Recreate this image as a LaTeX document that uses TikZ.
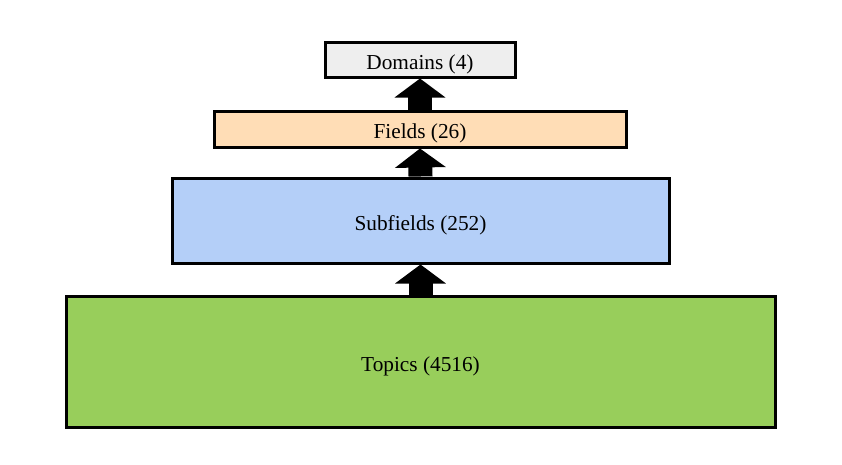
\documentclass[tikz,border=0pt]{standalone}
\usepackage{fontspec}
\setmainfont{Liberation Serif}
\usetikzlibrary{arrows.meta}
\definecolor{domfill}{HTML}{EEEEEE}
\definecolor{fldfill}{HTML}{FFDDB6}
\definecolor{subfill}{HTML}{B4CFF8}
\definecolor{topfill}{HTML}{98CE5B}
\newcommand{\lowtext}[1]{\raisebox{-9.5pt}[0pt][0pt]{#1}}
\begin{document}
\begin{tikzpicture}[x=1pt,y=-1pt,
  level/.style={draw=black,line width=3pt,inner sep=0pt,font=\fontsize{21.3}{24}\selectfont},
  uparrow/.style={line width=24pt,-{Triangle[width=50pt,length=19pt]}}]
\useasboundingbox (0,0) rectangle (842,464);
\node[level,fill=domfill,minimum width=190pt,minimum height=35pt] (dom) at (420,59.5) {\lowtext{Domains (4)}};
\node[level,fill=fldfill,minimum width=412pt,minimum height=36pt] (fld) at (420,129) {\lowtext{Fields (26)}};
\node[level,fill=subfill,minimum width=497pt,minimum height=85pt] (sub) at (420.5,220.5) {\lowtext{Subfields (252)}};
\node[level,fill=topfill,minimum width=709pt,minimum height=131pt] (top) at (420.5,361.5) {\lowtext{Topics (4516)}};
\draw[uparrow] (fld.north) -- (dom.south);
\draw[uparrow] (sub.north) -- (fld.south);
\draw[uparrow] (top.north) -- (sub.south);
\end{tikzpicture}
\end{document}
